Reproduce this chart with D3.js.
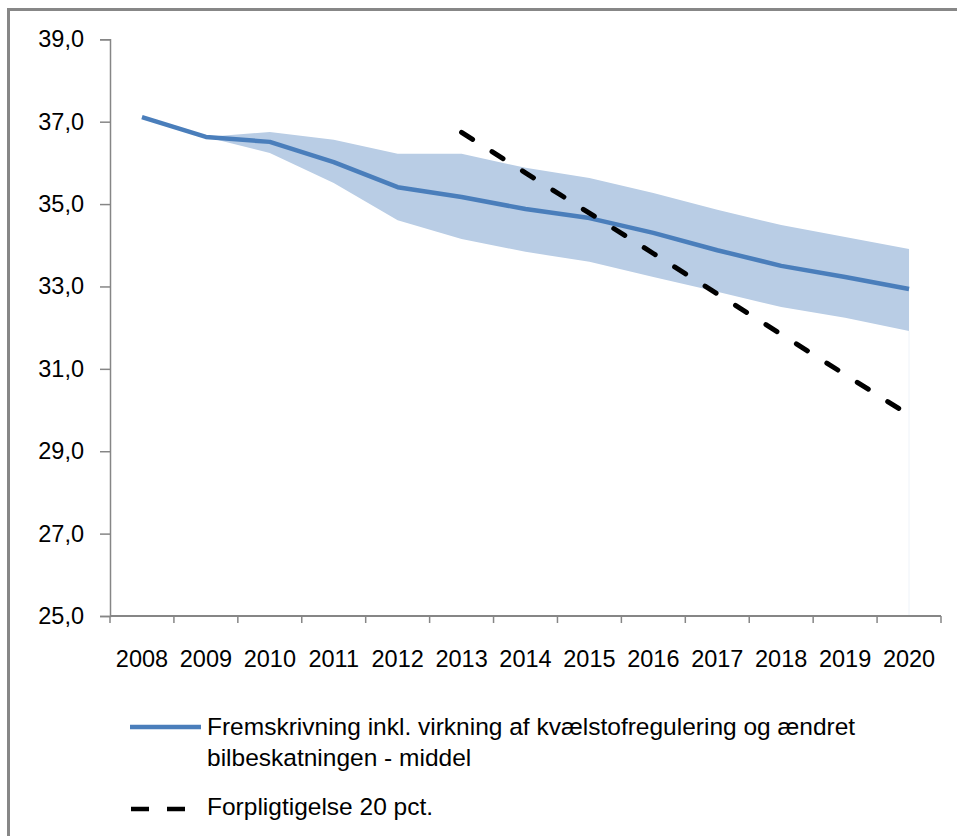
<!DOCTYPE html>
<html><head><meta charset="utf-8">
<script src="https://cdn.jsdelivr.net/npm/d3@7"></script>
<style>
html,body{margin:0;padding:0;background:#fff;}
svg{display:block;}
text{font-family:"Liberation Sans",Arial,sans-serif;fill:#000;}
</style></head>
<body>
<svg id="chart" width="957" height="836"></svg>
<script>
const years = ["2008","2009","2010","2011","2012","2013","2014","2015","2016","2017","2018","2019","2020"];
const middle = [37.11,36.63,36.51,36.02,35.41,35.17,34.88,34.66,34.30,33.88,33.50,33.23,32.94];
const bandLow = [null,36.63,36.24,35.51,34.61,34.15,33.84,33.60,33.23,32.87,32.50,32.24,31.92];
const bandHigh = [null,36.63,36.75,36.56,36.22,36.22,35.88,35.63,35.27,34.86,34.49,34.20,33.91];
const target = [null,null,null,null,null,36.74,35.76,34.78,33.80,32.82,31.84,30.86,29.88];
const yTicks = [25,27,29,31,33,35,37,39];
const legendLabels = [
  ["Fremskrivning inkl. virkning af kvælstofregulering og ændret","bilbeskatningen - middel"],
  ["Forpligtigelse 20 pct."]
];

const svg = d3.select("#chart");
const plotLeft = 110, plotRight = 941, plotTop = 39.3, plotBottom = 616;

// outer frame
svg.append("rect").attr("x",8.5).attr("y",9.5).attr("width",1000).attr("height",1000)
  .attr("fill","none").attr("stroke","#878787").attr("stroke-width",3);

const x = d3.scaleBand().domain(years).range([plotLeft,plotRight]).paddingInner(0).paddingOuter(0);
const xc = d => x(d) + x.bandwidth()/2;
const y = d3.scaleLinear().domain([25,39]).range([plotBottom,plotTop]);

const g = svg.append("g");

// band area
const bandData = years.map((yr,i)=>({yr, lo:bandLow[i], hi:bandHigh[i]})).filter(d=>d.lo!=null);
g.append("path").datum(bandData)
  .attr("fill","#b9cde5")
  .attr("d", d3.area().x(d=>xc(d.yr)).y0(d=>y(d.lo)).y1(d=>y(d.hi)));
// faint edge of the invisible lower area
const last = bandData[bandData.length-1];
g.append("line").attr("x1",xc(last.yr)).attr("x2",xc(last.yr))
  .attr("y1",y(last.lo)).attr("y2",y(25))
  .attr("stroke","#eef3f9").attr("stroke-width",1);

// axes
const yAxis = d3.axisLeft(y).tickValues(yTicks).tickSize(10).tickPadding(16)
  .tickFormat(d=>d3.format(".1f")(d).replace(".",","));
const ya = g.append("g").attr("transform",`translate(${plotLeft},0)`).call(yAxis);
ya.select(".domain").attr("stroke","#868686").attr("stroke-width",1.5);
ya.selectAll(".tick line").attr("stroke","#868686").attr("stroke-width",1.5);
ya.selectAll(".tick text").attr("font-size",23.5).attr("font-family","Liberation Sans, Arial, sans-serif");

const xAxis = d3.axisBottom(x).tickSize(0).tickPadding(34);
const xa = g.append("g").attr("transform",`translate(0,${plotBottom})`).call(xAxis);
xa.select(".domain").attr("stroke","#868686").attr("stroke-width",2).attr("d",`M${plotLeft},0H${plotRight}`);
xa.selectAll(".tick text").attr("font-size",23.5).attr("font-family","Liberation Sans, Arial, sans-serif");
// category boundary ticks
const bounds = years.map(d=>x(d)).concat([plotRight]);
g.append("g").selectAll("line").data(bounds).join("line")
  .attr("x1",d=>d).attr("x2",d=>d).attr("y1",plotBottom).attr("y2",plotBottom+7)
  .attr("stroke","#868686").attr("stroke-width",1.5);

// middle line
g.append("path").datum(years.map((yr,i)=>({yr,v:middle[i]})))
  .attr("fill","none").attr("stroke","#4a7ebb").attr("stroke-width",4.5)
  .attr("stroke-linejoin","round")
  .attr("d", d3.line().x(d=>xc(d.yr)).y(d=>y(d.v)));

// target dashed line
g.append("path").datum(years.map((yr,i)=>({yr,v:target[i]})).filter(d=>d.v!=null))
  .attr("fill","none").attr("stroke","#000").attr("stroke-width",5)
  .attr("stroke-linecap","round").attr("stroke-dasharray","13,23")
  .attr("d", d3.line().x(d=>xc(d.yr)).y(d=>y(d.v)));

// legend
const lg = svg.append("g");
lg.append("line").attr("x1",130).attr("x2",201).attr("y1",727).attr("y2",727)
  .attr("stroke","#4a7ebb").attr("stroke-width",4.5);
lg.append("text").attr("x",207).attr("y",735).attr("font-size",24.5).text(legendLabels[0][0]);
lg.append("text").attr("x",207).attr("y",766).attr("font-size",24.5).text(legendLabels[0][1]);
lg.append("line").attr("x1",131).attr("x2",202).attr("y1",809).attr("y2",809)
  .attr("stroke","#000").attr("stroke-width",4.5).attr("stroke-dasharray","18,18");
lg.append("text").attr("x",207).attr("y",815).attr("font-size",24.5).text(legendLabels[1][0]);
</script>
</body></html>
